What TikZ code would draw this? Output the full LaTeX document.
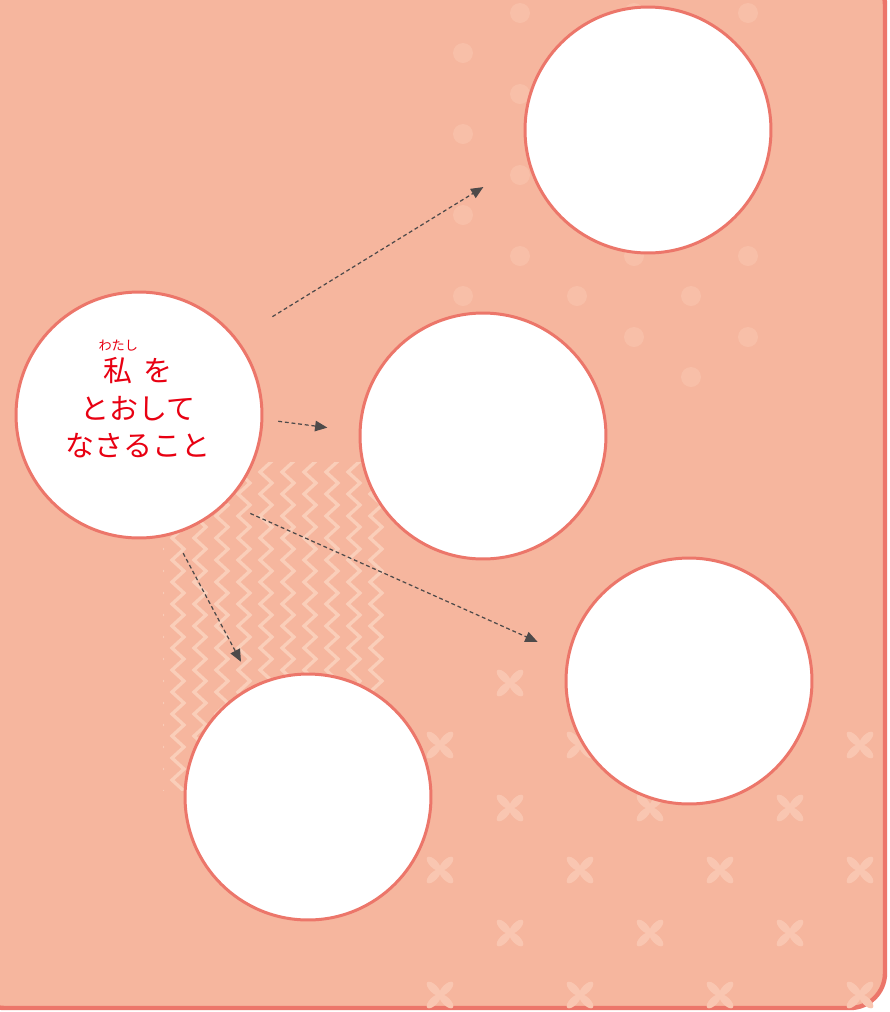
\documentclass[tikz,border=0pt]{standalone}
\usepackage{fontspec}
\newfontfamily\jpfont{Noto Sans CJK JP}
\usetikzlibrary{arrows.meta}

\definecolor{paper}{RGB}{246,182,158}
\definecolor{rim}{RGB}{236,118,106}
\definecolor{pale}{RGB}{251,212,192}
\definecolor{inkred}{RGB}{232,0,18}
\definecolor{dashgray}{RGB}{78,74,74}
\newcommand\furigana[1]{\rlap{\makebox[1em]{\smash{\raisebox{1.1em}{\fontsize{7.5}{7.5}\selectfont #1}}}}}

\begin{document}
\begin{tikzpicture}[%
        x=0.02cm, y=-0.02cm,
        bubble/.style={circle, draw=rim, line width=1.7pt, fill=white, inner sep=0pt, minimum size=4.92cm},
        link/.style={draw=dashgray, line width=0.7pt, dash pattern=on 2.2pt off 1.6pt, -{Triangle[length=7pt,width=6pt]}},
        word/.style={text=inkred, font=\jpfont\fontsize{16.5}{21.3}\selectfont, align=center}]
        \useasboundingbox (0,0) rectangle (890,1012);
        % Paper
        \fill[white] (0,0) rectangle (890,1012);
        \draw[rim, line width=2.5pt, fill=paper, rounded corners=0.7cm] (-30,-30) rectangle (885,1008);

        % Zigzag panel
        \begin{scope}
            \clip (163,462) rectangle (385,790);
            \foreach \c in {150,172,...,400}
                \draw[pale!80!paper, line width=1.9pt, line join=miter] (\c,450) \foreach \k in {1,...,16} {-- ++(12,11) -- ++(-12,11)};
        \end{scope}
        % Dots
        \foreach \i in {0,...,5}
            \foreach \k in {0,...,4}
                \fill[pale!30!paper] ({463+57*\i}, {53+81*\k-40*mod(\i,2)}) circle [radius=0.2cm];
        % Flowers
        \foreach \i in {0,...,6}
            \foreach \k in {0,...,2}
                \foreach \a in {45,135,225,315}
                    \fill[pale!55!paper, rotate around={\a:({440+70*\i},{745+125*\k-62*mod(\i,2)})}]
                        ({440+70*\i+9},{745+125*\k-62*mod(\i,2)}) ellipse [x radius=0.18cm, y radius=0.08cm];

        % Nodes
        \node [bubble] (self) at (139,415) {};
        \node [bubble] (upper) at (648,130) {};
        \node [bubble] (middle) at (483,436) {};
        \node [bubble] (lowright) at (689,681) {};
        \node [bubble] (lower) at (308,797) {};
        \node [word] (selftext) at (138,408) {%
            \furigana{わたし}私\hspace{0.36em}を\\
            とおして\\
            なさること};

        % Edges
        \draw[link, shorten <=0.83cm, shorten >=1.03cm] (self.38.8) -- (upper.194.5);
        \draw[link, shorten <=0.30cm, shorten >=0.63cm] (self.-2.4) -- (middle.178);
        \draw[link, shorten <=0.51cm, shorten >=0.65cm] (self.-45.7) -- (lowright.168);
        \draw[link, shorten <=0.42cm, shorten >=0.53cm] (self.-74.6) -- (lower.116.7);
    \end{tikzpicture}
\end{document}
